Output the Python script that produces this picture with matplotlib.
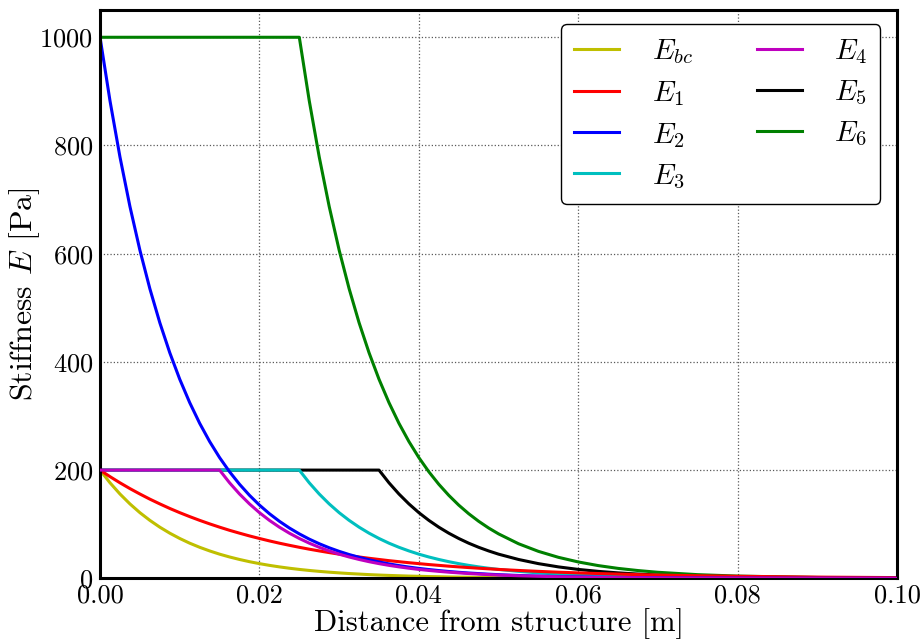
import matplotlib
matplotlib.use('Agg')
import matplotlib.pyplot as plt

# Computer Modern look
plt.rcParams['font.family'] = 'serif'
plt.rcParams['font.serif'] = ['cmr10']
plt.rcParams['mathtext.fontset'] = 'cm'
plt.rcParams['axes.unicode_minus'] = False
plt.rcParams['axes.formatter.use_mathtext'] = True

# Distance from structure [m]
x = [0.0, 0.00125, 0.0025, 0.00375, 0.005, 0.00625, 0.0075, 0.00875, 0.01, 0.01125,
     0.0125, 0.01375, 0.015, 0.01625, 0.0175, 0.01875, 0.02, 0.02125, 0.0225, 0.02375,
     0.025, 0.02625, 0.0275, 0.02875, 0.03, 0.03125, 0.0325, 0.03375, 0.035, 0.03625,
     0.0375, 0.03875, 0.04, 0.04125, 0.0425, 0.04375, 0.045, 0.04625, 0.0475, 0.04875,
     0.05, 0.0525, 0.055, 0.0575, 0.06, 0.0625, 0.065, 0.0675, 0.07, 0.075,
     0.08, 0.09, 0.1]

# Stiffness values [Pa]
E_bc = [200, 176.5, 155.8, 137.5, 121.3, 107.1, 94.5, 83.4, 73.6, 64.9,
        57.3, 50.6, 44.6, 39.4, 34.8, 30.7, 27.1, 23.9, 21.1, 18.6,
        16.4, 14.5, 12.8, 11.3, 10.0, 8.8, 7.8, 6.8, 6.0, 5.3,
        4.7, 4.1, 3.7, 3.2, 2.9, 2.5, 2.2, 2.0, 1.7, 1.5,
        1.3, 1.1, 0.8, 0.6, 0.5, 0.4, 0.3, 0.2, 0.2, 0.1,
        0.1, 0.0, 0.0]
E_1 = [200, 187.9, 176.5, 165.8, 155.8, 146.3, 137.5, 129.1, 121.3, 114.0,
       107.1, 100.6, 94.5, 88.7, 83.4, 78.3, 73.6, 69.1, 64.9, 61.0,
       57.3, 53.8, 50.6, 47.5, 44.6, 41.9, 39.4, 37.0, 34.8, 32.6,
       30.7, 28.8, 27.1, 25.4, 23.9, 22.4, 21.1, 19.8, 18.6, 17.5,
       16.4, 14.5, 12.8, 11.3, 10.0, 8.8, 7.8, 6.8, 6.0, 4.7,
       3.7, 2.2, 1.3]
E_2 = [1000, 882.5, 778.8, 687.3, 606.5, 535.3, 472.4, 416.9, 367.9, 324.7,
       286.5, 252.8, 223.1, 196.9, 173.8, 153.4, 135.3, 119.4, 105.4, 93.0,
       82.1, 72.4, 63.9, 56.4, 49.8, 43.9, 38.8, 34.2, 30.2, 26.6,
       23.5, 20.7, 18.3, 16.2, 14.3, 12.6, 11.1, 9.8, 8.7, 7.6,
       6.7, 5.2, 4.1, 3.2, 2.5, 1.9, 1.5, 1.2, 0.9, 0.6,
       0.3, 0.1, 0.0]
E_3 = [200, 200, 200, 200, 200, 200, 200, 200, 200, 200,
       200, 200, 200, 200, 200, 200, 200, 200, 200, 200,
       200, 176.5, 155.8, 137.5, 121.3, 107.1, 94.5, 83.4, 73.6, 64.9,
       57.3, 50.6, 44.6, 39.4, 34.8, 30.7, 27.1, 23.9, 21.1, 18.6,
       16.4, 12.8, 10.0, 7.8, 6.0, 4.7, 3.7, 2.9, 2.2, 1.3,
       0.8, 0.3, 0.1]
E_4 = [200, 200, 200, 200, 200, 200, 200, 200, 200, 200,
       200, 200, 200, 176.5, 155.8, 137.5, 121.3, 107.1, 94.5, 83.4,
       73.6, 64.9, 57.3, 50.6, 44.6, 39.4, 34.8, 30.7, 27.1, 23.9,
       21.1, 18.6, 16.4, 14.5, 12.8, 11.3, 10.0, 8.8, 7.8, 6.8,
       6.0, 4.7, 3.7, 2.9, 2.2, 1.7, 1.3, 1.1, 0.8, 0.5,
       0.3, 0.1, 0.0]
E_5 = [200, 200, 200, 200, 200, 200, 200, 200, 200, 200,
       200, 200, 200, 200, 200, 200, 200, 200, 200, 200,
       200, 200, 200, 200, 200, 200, 200, 200, 200, 176.5,
       155.8, 137.5, 121.3, 107.1, 94.5, 83.4, 73.6, 64.9, 57.3, 50.6,
       44.6, 34.8, 27.1, 21.1, 16.4, 12.8, 10.0, 7.8, 6.0, 3.7,
       2.2, 0.8, 0.3]
E_6 = [1000, 1000, 1000, 1000, 1000, 1000, 1000, 1000, 1000, 1000,
       1000, 1000, 1000, 1000, 1000, 1000, 1000, 1000, 1000, 1000,
       1000, 882.5, 778.8, 687.3, 606.5, 535.3, 472.4, 416.9, 367.9, 324.7,
       286.5, 252.8, 223.1, 196.9, 173.8, 153.4, 135.3, 119.4, 105.4, 93.0,
       82.1, 63.9, 49.8, 38.8, 30.2, 23.5, 18.3, 14.3, 11.1, 6.7,
       4.1, 1.5, 0.6]

# (values, label, colour, drawing order)
series = [
    (E_bc, r'$E_{bc}$', (0.75, 0.75, 0), 2.3),
    (E_1, r'$E_1$', (1, 0, 0), 2.4),
    (E_2, r'$E_2$', (0, 0, 1), 2.5),
    (E_3, r'$E_3$', (0, 0.75, 0.75), 2.1),
    (E_4, r'$E_4$', (0.75, 0, 0.75), 2.6),
    (E_5, r'$E_5$', (0, 0, 0), 2.0),
    (E_6, r'$E_6$', (0, 0.5, 0), 2.2),
]

fig = plt.figure(figsize=(9.22, 6.39), dpi=100)
ax = fig.add_axes([0.1085, 0.095, 0.8645, 0.889])

handles = []
for vals, lab, c, z in series:
    h, = ax.plot(x, vals, color=c, lw=2.2, label=lab, zorder=z)
    handles.append(h)

ax.set_xlim(0, 0.1)
ax.set_ylim(0, 1050)
ax.set_xticks([0.0, 0.02, 0.04, 0.06, 0.08, 0.10])
ax.set_xticklabels(['0.00', '0.02', '0.04', '0.06', '0.08', '0.10'])
ax.set_yticks([0, 200, 400, 600, 800, 1000])
ax.tick_params(labelsize=19, direction='in', length=0)
ax.tick_params(axis='x', pad=4)
ax.tick_params(axis='y', pad=5)
ax.grid(True, color='0.35', linestyle=':', linewidth=0.9)
for sp in ax.spines.values():
    sp.set_linewidth(2.2)

ax.set_xlabel('Distance from structure [m]', fontsize=22, labelpad=0.5)
ax.set_ylabel(r'Stiffness $E$ [Pa]', fontsize=23, labelpad=-2)

leg = ax.legend(handles=handles, ncol=2, loc='upper right', fontsize=21,
                frameon=True, fancybox=True, edgecolor='black',
                handlelength=1.55, handletextpad=1.1, columnspacing=2.2,
                labelspacing=0.44, borderpad=0.45, borderaxespad=0,
                bbox_to_anchor=(0.979, 0.976))
leg.get_frame().set_linewidth(1.0)
leg.get_frame().set_alpha(1.0)

fig.savefig('out.png', dpi=100)
